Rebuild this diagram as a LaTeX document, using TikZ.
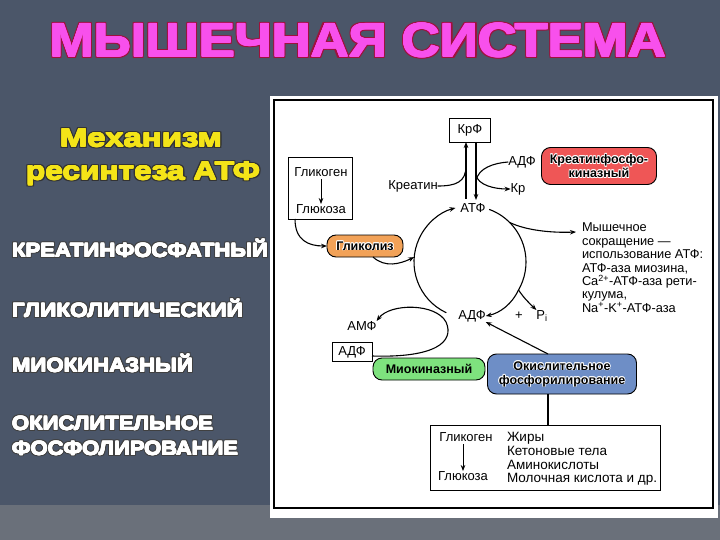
\documentclass[tikz,border=0pt]{standalone}
\usepackage{fontspec}
\setmainfont{Liberation Sans}
\usepackage{graphicx}
\usetikzlibrary{arrows.meta}
\definecolor{bg}{HTML}{4B5669}
\definecolor{bgl}{HTML}{6A707A}
\definecolor{ttl}{HTML}{F850EC}
\definecolor{ttlo}{HTML}{A0103C}
\definecolor{ylw}{HTML}{F4E418}
\definecolor{redb}{HTML}{EF5656}
\definecolor{orb}{HTML}{F2A258}
\definecolor{grb}{HTML}{7EE27E}
\definecolor{blb}{HTML}{6E8EC6}
\newcommand\hl[3]{\rlap{\color{#1}\kern#2 #3}\rlap{\color{#1}\kern-#2 #3}\rlap{\color{#1}\raisebox{#2}{#3}}\rlap{\color{#1}\raisebox{-#2}{#3}}\rlap{\color{#1}\kern#2\raisebox{#2}{#3}}\rlap{\color{#1}\kern-#2\raisebox{#2}{#3}}\rlap{\color{#1}\kern#2\raisebox{-#2}{#3}}\rlap{\color{#1}\kern-#2\raisebox{-#2}{#3}}}
\newcommand\htext[5]{\leavevmode\hl{#1}{#2}{#5}\hl{#3}{#4}{#5}{\color{#3}#5}}
\newcommand\wh[1]{\leavevmode\hl{white}{0.6pt}{#1}#1}
\newcommand\lab[1]{\fontsize{19.5}{20}\selectfont\bfseries\htext{black!75}{1.1pt}{white}{0.35pt}{#1}}
\newcommand\ylab[1]{\fontsize{26}{26}\selectfont\bfseries\htext{black!80}{1.3pt}{ylw}{0.4pt}{#1}}
\begin{document}
\begin{tikzpicture}[x=1pt,y=-1pt,
 every node/.style={inner sep=0pt,outer sep=0pt},
 txt/.style={font=\fontsize{13}{13.4}\selectfont},
 lbl/.style={txt,text height=9.3pt,text depth=2.7pt},
 lbb/.style={lbl,font=\fontsize{13.5}{14}\selectfont},
 bx/.style={draw=black,line width=0.9pt,fill=white},
 rbx/.style={draw=black,line width=0.9pt,rounded corners=9pt,align=center,font=\fontsize{12.5}{14}\selectfont\bfseries},
 con/.style={line width=1.1pt},
 arr/.style={con,-{Stealth[length=6pt,width=4.6pt]}},
 big/.style={anchor=base west}]

\useasboundingbox (0,0) rectangle (720,540);
\fill[bg] (0,0) rectangle (720,540);
\fill[bgl] (0,505) rectangle (720,540);

% title and left texts
\node[anchor=base] (title) at (358,57) {\resizebox{616pt}{\height}{\fontsize{48}{48}\selectfont\bfseries\htext{ttlo}{1.6pt}{ttl}{0.6pt}{МЫШЕЧНАЯ СИСТЕМА}}};
\node[anchor=base] (mech1) at (141,147) {\resizebox{162pt}{\height}{\ylab{Механизм}}};
\node[anchor=base] (mech2) at (143,180) {\resizebox{234pt}{\height}{\ylab{ресинтеза АТФ}}};
\node[big] (l1) at (12,257) {\resizebox{256pt}{\height}{\lab{КРЕАТИНФОСФАТНЫЙ}}};
\node[big] (l2) at (12,317) {\resizebox{231pt}{\height}{\lab{ГЛИКОЛИТИЧЕСКИЙ}}};
\node[big] (l3) at (12,372) {\resizebox{181pt}{\height}{\lab{МИОКИНАЗНЫЙ}}};
\node[big] (l4) at (12,430) {\resizebox{201pt}{\height}{\lab{ОКИСЛИТЕЛЬНОЕ}}};
\node[big] (l5) at (12,455) {\resizebox{226pt}{\height}{\lab{ФОСФОЛИРОВАНИЕ}}};

% panel
\fill[white] (270,96) rectangle (718,518);
\draw[line width=1.4pt] (274,100) rectangle (713,508);

% creatine phosphate part
\node[bx,lbl,minimum width=41pt,minimum height=24pt] (krf) at (470,130) {КрФ};
\node[lbl] (krea) at (413,186) {Креатин};
\node[lbl] (adf1) at (522,162) {АДФ};
\node[lbl] (kr) at (518,189) {Кр};
\node[lbl] (atf) at (473,209) {АТФ};
\node[rbx,fill=redb,minimum width=115pt,minimum height=37pt] (ck) at (599,166) {\wh{Креатинфосфо-}\\\wh{киназный}};
\coordinate (upb) at (466,199);
\coordinate (dnb) at (476,200);
\draw[arr] (upb) -- (upb |- krf.south);
\draw[arr] (dnb |- krf.south) -- (dnb);
\draw[con] (krea.east) .. controls (456,186) and (466,182) .. (466,166);
\draw[con] (adf1.west) .. controls (494,163) and (478,168) .. (476,181);
\draw[arr] (476,175) .. controls (478,185) and (494,189) .. (kr.west);

% glycogen / glycolysis
\node[bx,minimum width=64pt,minimum height=62pt] (glbox) at (320,188) {};
\node[lbl] (gly1) at (321,173) {Гликоген};
\node[lbl] (glu1) at (321,210) {Глюкоза};
\draw[arr,line width=0.8pt] (gly1.south) -- (glu1.north);
\node[rbx,fill=orb,minimum width=76pt,minimum height=22pt] (glyc) at (365,246) {\wh{Гликолиз}};
\draw[arr] ([xshift=7pt]glbox.south west) .. controls (295,240) and (308,246) .. (glyc.west);

% ATP cycle
\coordinate (cc) at (470,262);
\coordinate (cl) at ([shift={(-175:56)}]cc);
\draw[arr] ([shift={(-245:56)}]cc) arc[start angle=-245,end angle=-105,radius=56];
\draw[con] ([shift={(-70:56)}]cc) arc[start angle=-70,end angle=30,radius=56] coordinate (rend);
\draw[arr] ([xshift=8pt]glyc.south) .. controls (385,268) and (400,264) .. (cl);
\node[anchor=north west,align=left,font=\fontsize{12.8}{13.4}\selectfont] (myo) at (582,223) {Мышечное\\сокращение —\\использование АТФ:\\АТФ-аза миозина,\\Ca\textsuperscript{2+}-АТФ-аза рети-\\кулума,\\Na\textsuperscript{+}-K\textsuperscript{+}-АТФ-аза};
\coordinate (myoin) at (576,232);
\draw[arr] ([shift={(-45:56)}]cc) .. controls (525,230) and (550,233) .. (myoin);
\node[lbl] (adf2) at (472,316) {АДФ};
\node[lbl] (plus) at (519,316) {+};
\node[lbl] (pi) at (542,316) {P\textsubscript{i}};
\draw[arr] (rend) .. controls (524,298) and (528,302) .. (pi.north west);
\draw[arr] (rend) .. controls (512,304) and (500,313) .. (adf2.east);

% myokinase
\node[lbl] (amf) at (362,327) {АМФ};
\node[bx,lbl,minimum width=40pt,minimum height=19pt] (adf3) at (352,352) {АДФ};
\node[rbx,fill=grb,minimum width=112pt,minimum height=22pt] (miok) at (429,369) {Миокиназный};
\draw[arr] ([yshift=-4pt]adf3.east) .. controls (435,358) and (455,342) .. (446,322) .. controls (436,303) and (390,303) .. (amf.north east);

% oxidative phosphorylation
\node[rbx,fill=blb,minimum width=149pt,minimum height=40pt] (oxph) at (562,374) {\wh{Окислительное}\\\wh{фосфорилирование}};
\draw[arr] ([xshift=-14pt]oxph.north) -- (adf2.south east);
\node[bx,minimum width=230pt,minimum height=65pt] (sub) at (545,457.5) {};
\draw[con] ([xshift=-14pt]oxph.south) -- ([xshift=-14pt]oxph.south |- sub.north);
\node[lbl] (gly2) at (466,438) {Гликоген};
\node[lbl] (glu2) at (463,477) {Глюкоза};
\draw[arr,line width=0.8pt] ([xshift=-3pt]gly2.south) -- (glu2.north);
\node[lbb,anchor=west] (f1) at (507,438) {Жиры};
\node[lbb,anchor=west] (f2) at (507,452) {Кетоновые тела};
\node[lbb,anchor=west] (f3) at (507,466) {Аминокислоты};
\node[lbb,anchor=west] (f4) at (507,479) {Молочная кислота и др.};
\end{tikzpicture}
\end{document}
